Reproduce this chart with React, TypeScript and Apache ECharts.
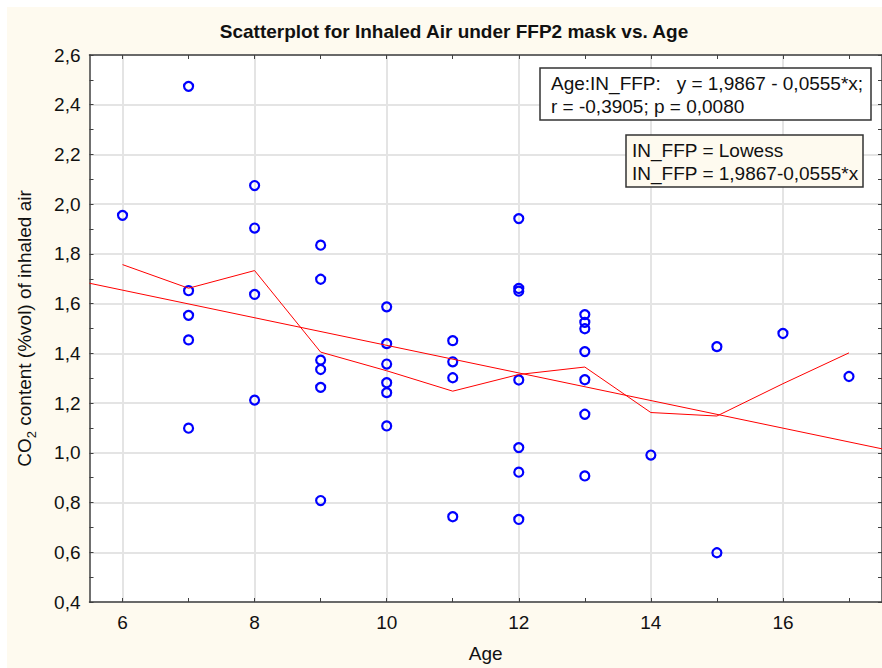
import React, { useEffect, useRef } from "react";
import * as echarts from "echarts";

const pointAges = [
  6,
  7, 7, 7, 7, 7,
  8, 8, 8, 8,
  9, 9, 9, 9, 9, 9,
  10, 10, 10, 10, 10, 10,
  11, 11, 11, 11,
  12, 12, 12, 12, 12, 12, 12,
  13, 13, 13, 13, 13, 13, 13,
  14,
  15, 15,
  16,
  17,
];
const pointCO2 = [
  1.955,
  2.474, 1.652, 1.553, 1.454, 1.099,
  2.075, 1.904, 1.637, 1.212,
  1.835, 1.698, 1.373, 1.335, 1.263, 0.808,
  1.587, 1.439, 1.357, 1.282, 1.242, 1.108,
  1.451, 1.366, 1.302, 0.743,
  1.942, 1.661, 1.65, 1.293, 1.021, 0.922, 0.732,
  1.556, 1.525, 1.499, 1.407, 1.294, 1.155, 0.907,
  0.991,
  1.427, 0.598,
  1.48,
  1.307,
];
const lowessAges = [6, 7, 8, 9, 10, 11, 12, 13, 14, 15, 16, 17];
const lowessValues = [1.757, 1.662, 1.733, 1.405, 1.33, 1.248, 1.315, 1.345, 1.162, 1.148, 1.278, 1.402];
const regressionAges = [5.5, 17.5];
const regressionValues = [1.682, 1.016];

const xLabelValues = [6, 8, 10, 12, 14, 16];
const xMinorValues = [7, 9, 11, 13, 15, 17];
const xAllValues = [6, 7, 8, 9, 10, 11, 12, 13, 14, 15, 16, 17];

const titleText = "Scatterplot for Inhaled Air under FFP2 mask vs. Age";
const box1Lines = ["Age:IN_FFP:   y = 1,9867 - 0,0555*x;", "r = -0,3905; p = 0,0080"];
const box2Lines = ["IN_FFP = Lowess", "IN_FFP = 1,9867-0,0555*x"];

const FONT = '"Liberation Sans", Arial, sans-serif';
const CREAM = "#fefaef";
const AXIS = "#404040";
const GRIDC = "#e4e4e4";

export default function App() {
  const ref = useRef<HTMLDivElement>(null);
  useEffect(() => {
    if (!ref.current) return;
    const chart = echarts.init(ref.current, null, { renderer: "svg" });
    const fmt = (v: number) => v.toFixed(1).replace(".", ",");
    const textEl = (x: number, y: number, text: string, extra: any = {}) => ({
      type: "text",
      x,
      y,
      z: 100,
      style: {
        text,
        fontFamily: FONT,
        fontSize: 19,
        fill: "#111",
        textAlign: "left",
        textVerticalAlign: "middle",
        ...extra,
      },
    });
    const option: any = {
      animation: false,
      backgroundColor: CREAM,
      textStyle: { fontFamily: FONT },
      grid: {
        left: 80,
        top: 48,
        right: -2,
        bottom: 65,
        show: true,
        backgroundColor: "#ffffff",
        borderWidth: 0,
      },
      xAxis: [
        {
          type: "value",
          min: 5.5,
          max: 17.5,
          position: "bottom",
          name: "Age",
          nameLocation: "middle",
          nameGap: 42,
          nameTextStyle: { fontSize: 19, color: "#111", fontFamily: FONT },
          axisLine: { show: true, lineStyle: { color: AXIS, width: 1.5 } },
          axisTick: { show: true, inside: true, length: 4, customValues: xLabelValues, lineStyle: { color: AXIS } },
          axisLabel: { show: true, customValues: xLabelValues, fontSize: 19, color: "#111", margin: 11, fontFamily: FONT },
          splitLine: { show: true, lineStyle: { color: GRIDC, width: 2 } },
        },
        {
          type: "value",
          min: 5.5,
          max: 17.5,
          position: "bottom",
          axisLine: { show: false },
          axisTick: { show: true, inside: true, length: 4, customValues: xMinorValues, lineStyle: { color: AXIS } },
          axisLabel: { show: false },
          splitLine: { show: false },
        },
        {
          type: "value",
          min: 5.5,
          max: 17.5,
          position: "top",
          axisLine: { show: true, lineStyle: { color: AXIS, width: 1.5 } },
          axisTick: { show: true, inside: true, length: 4, customValues: xAllValues, lineStyle: { color: AXIS } },
          axisLabel: { show: false },
          splitLine: { show: false },
        },
      ],
      yAxis: [
        {
          type: "value",
          min: 0.4,
          max: 2.6,
          interval: 0.2,
          position: "left",
          name: "{n|CO}{s|2}{n| content (%vol) of inhaled air}",
          nameLocation: "middle",
          nameGap: 52,
          nameTextStyle: {
            fontFamily: FONT,
            color: "#111",
            rich: {
              n: { fontSize: 19, lineHeight: 26, color: "#111", fontFamily: FONT },
              s: { fontSize: 13, lineHeight: 13, verticalAlign: "bottom", color: "#111", fontFamily: FONT },
            },
          },
          axisLine: { show: true, lineStyle: { color: AXIS, width: 1.5 } },
          axisTick: { show: true, inside: true, length: 4, lineStyle: { color: AXIS } },
          minorTick: { show: true, splitNumber: 2, length: 4, lineStyle: { color: AXIS } },
          axisLabel: { formatter: fmt, fontSize: 19, color: "#111", margin: 9, fontFamily: FONT },
          splitLine: { show: true, lineStyle: { color: GRIDC, width: 2 } },
        },
        {
          type: "value",
          min: 0.4,
          max: 2.6,
          interval: 0.2,
          position: "right",
          axisLine: { show: true, lineStyle: { color: AXIS, width: 1.5 } },
          axisTick: { show: true, inside: true, length: 4, lineStyle: { color: AXIS } },
          minorTick: { show: true, splitNumber: 2, length: 4, lineStyle: { color: AXIS } },
          axisLabel: { show: false },
          splitLine: { show: false },
        },
      ],
      series: [
        {
          name: "Regression",
          type: "line",
          xAxisIndex: 0,
          yAxisIndex: 0,
          data: regressionAges.map((a, i) => [a, regressionValues[i]]),
          symbol: "none",
          lineStyle: { color: "#ff0000", width: 1 },
          silent: true,
        },
        {
          name: "Lowess",
          type: "line",
          xAxisIndex: 0,
          yAxisIndex: 0,
          data: lowessAges.map((a, i) => [a, lowessValues[i]]),
          symbol: "none",
          lineStyle: { color: "#ff0000", width: 1 },
          silent: true,
        },
        {
          name: "IN_FFP",
          type: "scatter",
          xAxisIndex: 0,
          yAxisIndex: 0,
          data: pointAges.map((a, i) => [a, pointCO2[i]]),
          symbol: "circle",
          symbolSize: 9,
          itemStyle: { color: "rgba(0,0,0,0)", borderColor: "#0000ff", borderWidth: 2.2, opacity: 1 },
        },
      ],
      graphic: [
        textEl(447, 24, titleText, { fontWeight: "bold", textAlign: "center" }),
        {
          type: "rect",
          z: 90,
          shape: { x: 533, y: 61, width: 331, height: 52 },
          style: { fill: "#ffffff", stroke: "#333", lineWidth: 1.5 },
        },
        textEl(544, 76, box1Lines[0]),
        textEl(544, 99, box1Lines[1]),
        {
          type: "rect",
          z: 90,
          shape: { x: 619, y: 128, width: 237, height: 52 },
          style: { fill: CREAM, stroke: "#333", lineWidth: 1.5 },
        },
        textEl(625, 143, box2Lines[0]),
        textEl(625, 166, box2Lines[1]),
      ],
    };
    chart.setOption(option);
    return () => chart.dispose();
  }, []);
  return (
    <div
      ref={ref}
      style={{ position: "absolute", left: 7, top: 7, width: 875, height: 661 }}
    />
  );
}
